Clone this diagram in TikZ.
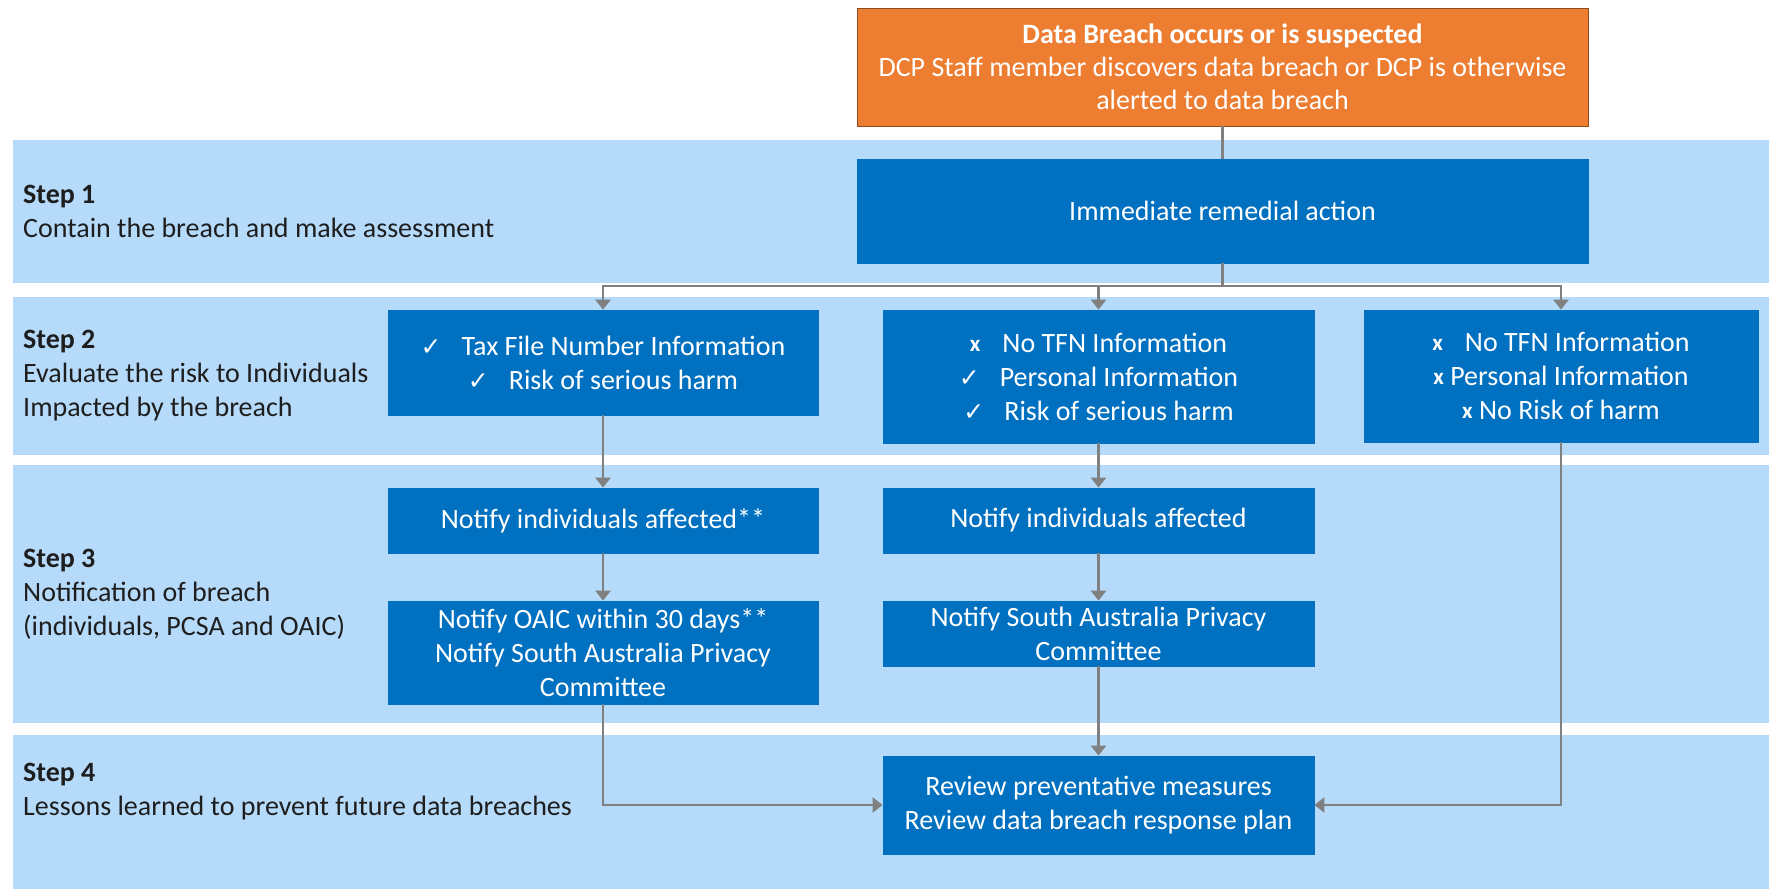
\documentclass[tikz,border=0pt]{standalone}
\usepackage{fontspec}
\setmainfont{Carlito}
\newfontfamily\symfont{DejaVu Sans}
\usetikzlibrary{arrows.meta}

\definecolor{bandblue}{RGB}{181,218,250}
\definecolor{boxblue}{RGB}{0,112,192}
\definecolor{alertorange}{RGB}{237,125,49}
\definecolor{linkgray}{RGB}{128,128,128}
\definecolor{labeltext}{RGB}{30,30,30}

% tick and cross markers used inside the assessment boxes
\newcommand{\tickmark}{{\symfont\fontsize{25}{25}\selectfont ✓}}
\newcommand{\crossmark}{\raisebox{1pt}{\bfseries\fontsize{23}{23}\selectfont x}}

\begin{document}
\begin{tikzpicture}[x=1pt,y=-1pt,
  band/.style={fill=bandblue},
  flowbox/.style={rectangle,fill=boxblue,draw=boxblue,line width=0.8pt,
    text=white,align=center,inner sep=0pt,
    font=\fontsize{28}{34}\selectfont},
  alertbox/.style={flowbox,fill=alertorange,draw=black!40!alertorange,
    font=\fontsize{28}{33}\selectfont},
  steplabel/.style={anchor=west,align=left,inner sep=0pt,text=labeltext,
    font=\fontsize{28}{34}\selectfont},
  link/.style={draw=linkgray,line width=2.6pt},
  arrowlink/.style={link,-{Triangle[width=15pt,length=10pt]}}]

% canvas
\fill[white] (0,0) rectangle (1769,889);
\useasboundingbox (0,0) rectangle (1769,889);

% step bands
\fill[band] (13,140) rectangle (1769,283);
\fill[band] (13,297) rectangle (1769,455);
\fill[band] (13,465) rectangle (1769,723);
\fill[band] (13,735) rectangle (1769,889);

% step labels
\node[steplabel] (s1) at (23,211) {\textbf{Step 1}\\Contain the breach and make assessment};
\node[steplabel] (s2) at (23,376) {\textbf{Step 2}\\Evaluate the risk to Individuals\\Impacted by the breach};
\node[steplabel] (s3) at (23,594) {\textbf{Step 3}\\Notification of breach\\(individuals, PCSA and OAIC)};
\node[steplabel] (s4) at (23,792) {\textbf{Step 4}\\Lessons learned to prevent future data breaches};

% trigger and step 1
\node[alertbox,minimum width=731pt,minimum height=118pt] (alert) at (1222.5,67)
  {\textbf{Data Breach occurs or is suspected}\\DCP Staff member discovers data breach or DCP is otherwise\\alerted to data breach};
\node[flowbox,minimum width=731pt,minimum height=104pt] (remedy) at (1222.5,211)
  {Immediate remedial action};

% step 2 assessments
\node[flowbox,minimum width=430pt,minimum height=105pt] (tfn) at (603,362.5)
  {\tickmark\hspace{20pt}Tax File Number Information\\\tickmark\hspace{20pt}Risk of serious harm};
\node[flowbox,minimum width=431pt,minimum height=133pt] (pers) at (1098.5,376.5)
  {\crossmark\hspace{22pt}No TFN Information\\\tickmark\hspace{20pt}Personal Information\\\tickmark\hspace{20pt}Risk of serious harm};
\node[flowbox,minimum width=394pt,minimum height=132pt] (none) at (1561,376)
  {\crossmark\hspace{22pt}No TFN Information\\\crossmark{} Personal Information\\\crossmark{} No Risk of harm};

% step 3 notifications
\node[flowbox,minimum width=430pt,minimum height=65pt] (notA) at (603,520.5)
  {Notify individuals affected**};
\node[flowbox,minimum width=430pt,minimum height=103pt] (oaic) at (603,652.5)
  {Notify OAIC within 30 days**\\Notify South Australia Privacy\\Committee};
\node[flowbox,minimum width=431pt,minimum height=65pt] (notB) at (1098.5,520.5)
  {Notify individuals affected};
\node[flowbox,minimum width=431pt,minimum height=65pt] (sapc) at (1098.5,633.5)
  {Notify South Australia Privacy\\Committee};

% step 4 review
\node[flowbox,minimum width=431pt,minimum height=98pt] (review) at (1098.5,805)
  {Review preventative measures\\Review data breach response plan};

% connectors
\coordinate (split) at (1222.5,286);
\draw[link] (alert.south) -- (remedy.north);
\draw[link] (remedy.south) -- (split);
\draw[arrowlink] (split) -| (tfn.north);
\draw[arrowlink] (split) -| (none.north);
\draw[arrowlink] (pers.north |- split) -- (pers.north);

\draw[arrowlink] (tfn) -- (notA);
\draw[arrowlink] (notA) -- (oaic);
\draw[arrowlink] (oaic.south) |- (review.west);

\draw[arrowlink] (pers) -- (notB);
\draw[arrowlink] (notB) -- (sapc);
\draw[arrowlink] (sapc) -- (review);

\draw[arrowlink] (none.south) |- (review.east);
\end{tikzpicture}
\end{document}
